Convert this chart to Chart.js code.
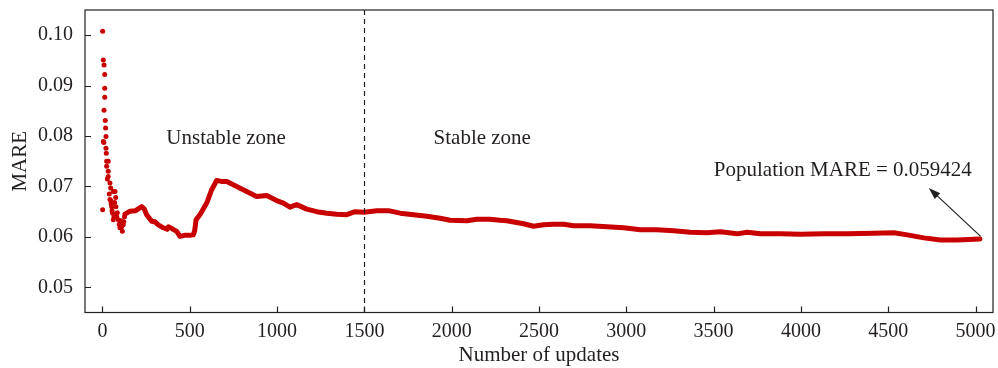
<!DOCTYPE html>
<html>
<head>
<meta charset="utf-8">
<script src="https://cdn.jsdelivr.net/npm/chart.js@4.4.0/dist/chart.umd.min.js"></script>
<style>
  html, body { margin: 0; padding: 0; background: #fff; }
  #wrap { width: 998px; height: 368px; }
</style>
</head>
<body>
<div id="wrap"><canvas id="mareChart"></canvas></div>
<script>
// first updates: scattered points
const earlyX = [1, 5, 9, 13, 13, 13, 9, 16, 18, 20, 5, 8, 20, 22, 24, 33, 24, 33, 28, 33, 43, 47, 1, 39, 47, 72, 76, 53, 58, 62, 77, 81, 91, 114, 119, 104, 62, 43, 50, 55, 66, 70, 85, 96, 100, 108, 110, 122, 126];
const earlyY = [0.1008, 0.0951, 0.0941, 0.0922, 0.0895, 0.0877, 0.0851, 0.0831, 0.0816, 0.0799, 0.0789, 0.0787, 0.0776, 0.0766, 0.0750, 0.0750, 0.0740, 0.0730, 0.0715, 0.0720, 0.0707, 0.0697, 0.0654, 0.0685, 0.0672, 0.0690, 0.0678, 0.0660, 0.0647, 0.0634, 0.0660, 0.0641, 0.0634, 0.0611, 0.0624, 0.0628, 0.0690, 0.0674, 0.0665, 0.0652, 0.0640, 0.0668, 0.0648, 0.0625, 0.0618, 0.0632, 0.0620, 0.0630, 0.0640];

// running MARE after that
const curveX = [129, 158, 190, 225, 240, 253, 282, 300, 320, 349, 370, 377, 400, 425, 444, 470, 500, 520, 528, 536, 560, 597, 625, 654, 680, 712, 769, 826, 883, 940, 998, 1036, 1074, 1112, 1170, 1227, 1285, 1342, 1399, 1447, 1498, 1571, 1637, 1705, 1781, 1858, 1934, 1991, 2087, 2144, 2218, 2277, 2316, 2411, 2469, 2526, 2583, 2641, 2698, 2794, 2889, 2985, 3080, 3176, 3271, 3367, 3462, 3539, 3634, 3692, 3768, 3883, 3997, 4131, 4265, 4417, 4532, 4609, 4704, 4799, 4895, 5025];
const curveY = [0.0645, 0.0651, 0.0652, 0.0660, 0.0655, 0.0644, 0.0631, 0.0630, 0.0624, 0.0618, 0.0615, 0.0620, 0.0616, 0.0611, 0.0601, 0.0603, 0.0603, 0.0604, 0.0612, 0.0634, 0.0645, 0.0667, 0.0693, 0.0712, 0.0710, 0.0710, 0.0700, 0.0690, 0.0680, 0.0682, 0.0672, 0.0667, 0.0659, 0.0664, 0.0655, 0.0650, 0.0647, 0.0645, 0.0644, 0.0650, 0.0649, 0.0652, 0.0652, 0.0647, 0.0644, 0.0641, 0.0637, 0.0633, 0.0632, 0.0635, 0.0635, 0.0633, 0.0632, 0.0626, 0.0621, 0.0624, 0.0625, 0.0625, 0.0622, 0.0622, 0.0620, 0.0618, 0.0614, 0.0614, 0.0612, 0.0609, 0.0608, 0.0610, 0.0606, 0.0609, 0.0606, 0.0606, 0.0605, 0.0606, 0.0606, 0.0607, 0.0608, 0.0604, 0.0598, 0.0594, 0.0594, 0.0596];

const xTicks = [0, 500, 1000, 1500, 2000, 2500, 3000, 3500, 4000, 4500, 5000];
const yTicks = [0.05, 0.06, 0.07, 0.08, 0.09, 0.10];

const zoneSplit = 1500;
const zoneLabels = ["Unstable zone", "Stable zone"];
const populationMare = 0.059424;

const red = "#c80000";
const ink = "#231f20";
const serif = "'Liberation Serif', 'Times New Roman', serif";

const frame = {
  id: "frame",
  afterDraw(chart) {
    const { ctx, chartArea: a, scales: { x, y } } = chart;
    ctx.save();

    // box
    ctx.strokeStyle = ink;
    ctx.lineWidth = 1.2;
    ctx.strokeRect(a.left, a.top, a.right - a.left, a.bottom - a.top);

    // inward ticks
    ctx.beginPath();
    xTicks.forEach(v => {
      const px = Math.round(x.getPixelForValue(v)) + 0.5;
      ctx.moveTo(px, a.bottom);
      ctx.lineTo(px, a.bottom - 6);
    });
    yTicks.forEach(v => {
      const py = Math.round(y.getPixelForValue(v)) + 0.5;
      ctx.moveTo(a.left, py);
      ctx.lineTo(a.left + 6, py);
    });
    ctx.stroke();

    // zone split
    const sx = Math.round(x.getPixelForValue(zoneSplit)) + 0.5;
    ctx.setLineDash([5, 4]);
    ctx.beginPath();
    ctx.moveTo(sx, a.top);
    ctx.lineTo(sx, a.bottom);
    ctx.stroke();
    ctx.setLineDash([]);

    // labels
    ctx.fillStyle = ink;
    ctx.font = "21px " + serif;
    ctx.textAlign = "center";
    ctx.textBaseline = "middle";
    ctx.fillText(zoneLabels[0], x.getPixelForValue(708), y.getPixelForValue(0.0795));
    ctx.fillText(zoneLabels[1], x.getPixelForValue(2175), y.getPixelForValue(0.0795));
    ctx.fillText("Population MARE = " + populationMare, x.getPixelForValue(4240), y.getPixelForValue(0.0731));

    // arrow to last point
    const tx = x.getPixelForValue(5029), ty = y.getPixelForValue(0.0601);
    const hx = x.getPixelForValue(4732), hy = y.getPixelForValue(0.0697);
    const ang = Math.atan2(hy - ty, hx - tx);
    ctx.lineWidth = 1.2;
    ctx.beginPath();
    ctx.moveTo(tx, ty);
    ctx.lineTo(hx - 8 * Math.cos(ang), hy - 8 * Math.sin(ang));
    ctx.stroke();
    ctx.beginPath();
    ctx.moveTo(hx, hy);
    ctx.lineTo(hx - 12 * Math.cos(ang) + 4 * Math.sin(ang), hy - 12 * Math.sin(ang) - 4 * Math.cos(ang));
    ctx.lineTo(hx - 12 * Math.cos(ang) - 4 * Math.sin(ang), hy - 12 * Math.sin(ang) + 4 * Math.cos(ang));
    ctx.closePath();
    ctx.fill();

    ctx.restore();
  }
};

new Chart(document.getElementById("mareChart"), {
  type: "scatter",
  data: {
    datasets: [
      {
        data: earlyX.map((v, i) => ({ x: v, y: earlyY[i] })),
        backgroundColor: red,
        borderColor: red,
        pointRadius: 2.5,
        borderWidth: 0,
      },
      {
        data: curveX.map((v, i) => ({ x: v, y: curveY[i] })),
        showLine: true,
        borderColor: red,
        backgroundColor: red,
        borderWidth: 5,
        pointRadius: 0,
        tension: 0,
        borderJoinStyle: "round",
        borderCapStyle: "round",
      },
    ],
  },
  options: {
    responsive: true,
    maintainAspectRatio: false,
    animation: false,
    layout: { padding: { top: 10, right: 5, left: 0, bottom: 0 } },
    plugins: { legend: { display: false }, tooltip: { enabled: false } },
    scales: {
      x: {
        type: "linear",
        min: -100,
        max: 5100,
        afterBuildTicks: s => { s.ticks = xTicks.map(v => ({ value: v })); },
        afterFit: s => { s.height = 55.5; s.paddingLeft = 0; s.paddingRight = 0; },
        grid: { display: false, drawTicks: false },
        border: { display: false },
        ticks: {
          padding: 7,
          color: ink,
          font: { family: serif, size: 20 },
          maxRotation: 0,
          autoSkip: false,
          callback: v => String(v),
        },
        title: {
          display: true,
          text: "Number of updates",
          color: ink,
          font: { family: serif, size: 21 },
          padding: { top: 0, bottom: 0 },
        },
      },
      y: {
        min: 0.045,
        max: 0.105,
        afterBuildTicks: s => { s.ticks = yTicks.map(v => ({ value: v })); },
        afterFit: s => { s.width = 85; s.paddingTop = 0; s.paddingBottom = 0; },
        grid: { display: false, drawTicks: false },
        border: { display: false },
        ticks: {
          padding: 12,
          color: ink,
          font: { family: serif, size: 20 },
          callback: v => v.toFixed(2),
        },
        title: {
          display: true,
          text: "MARE",
          color: ink,
          font: { family: serif, size: 21 },
          padding: { top: 8, bottom: 0 },
        },
      },
    },
  },
  plugins: [frame],
});
</script>
</body>
</html>
